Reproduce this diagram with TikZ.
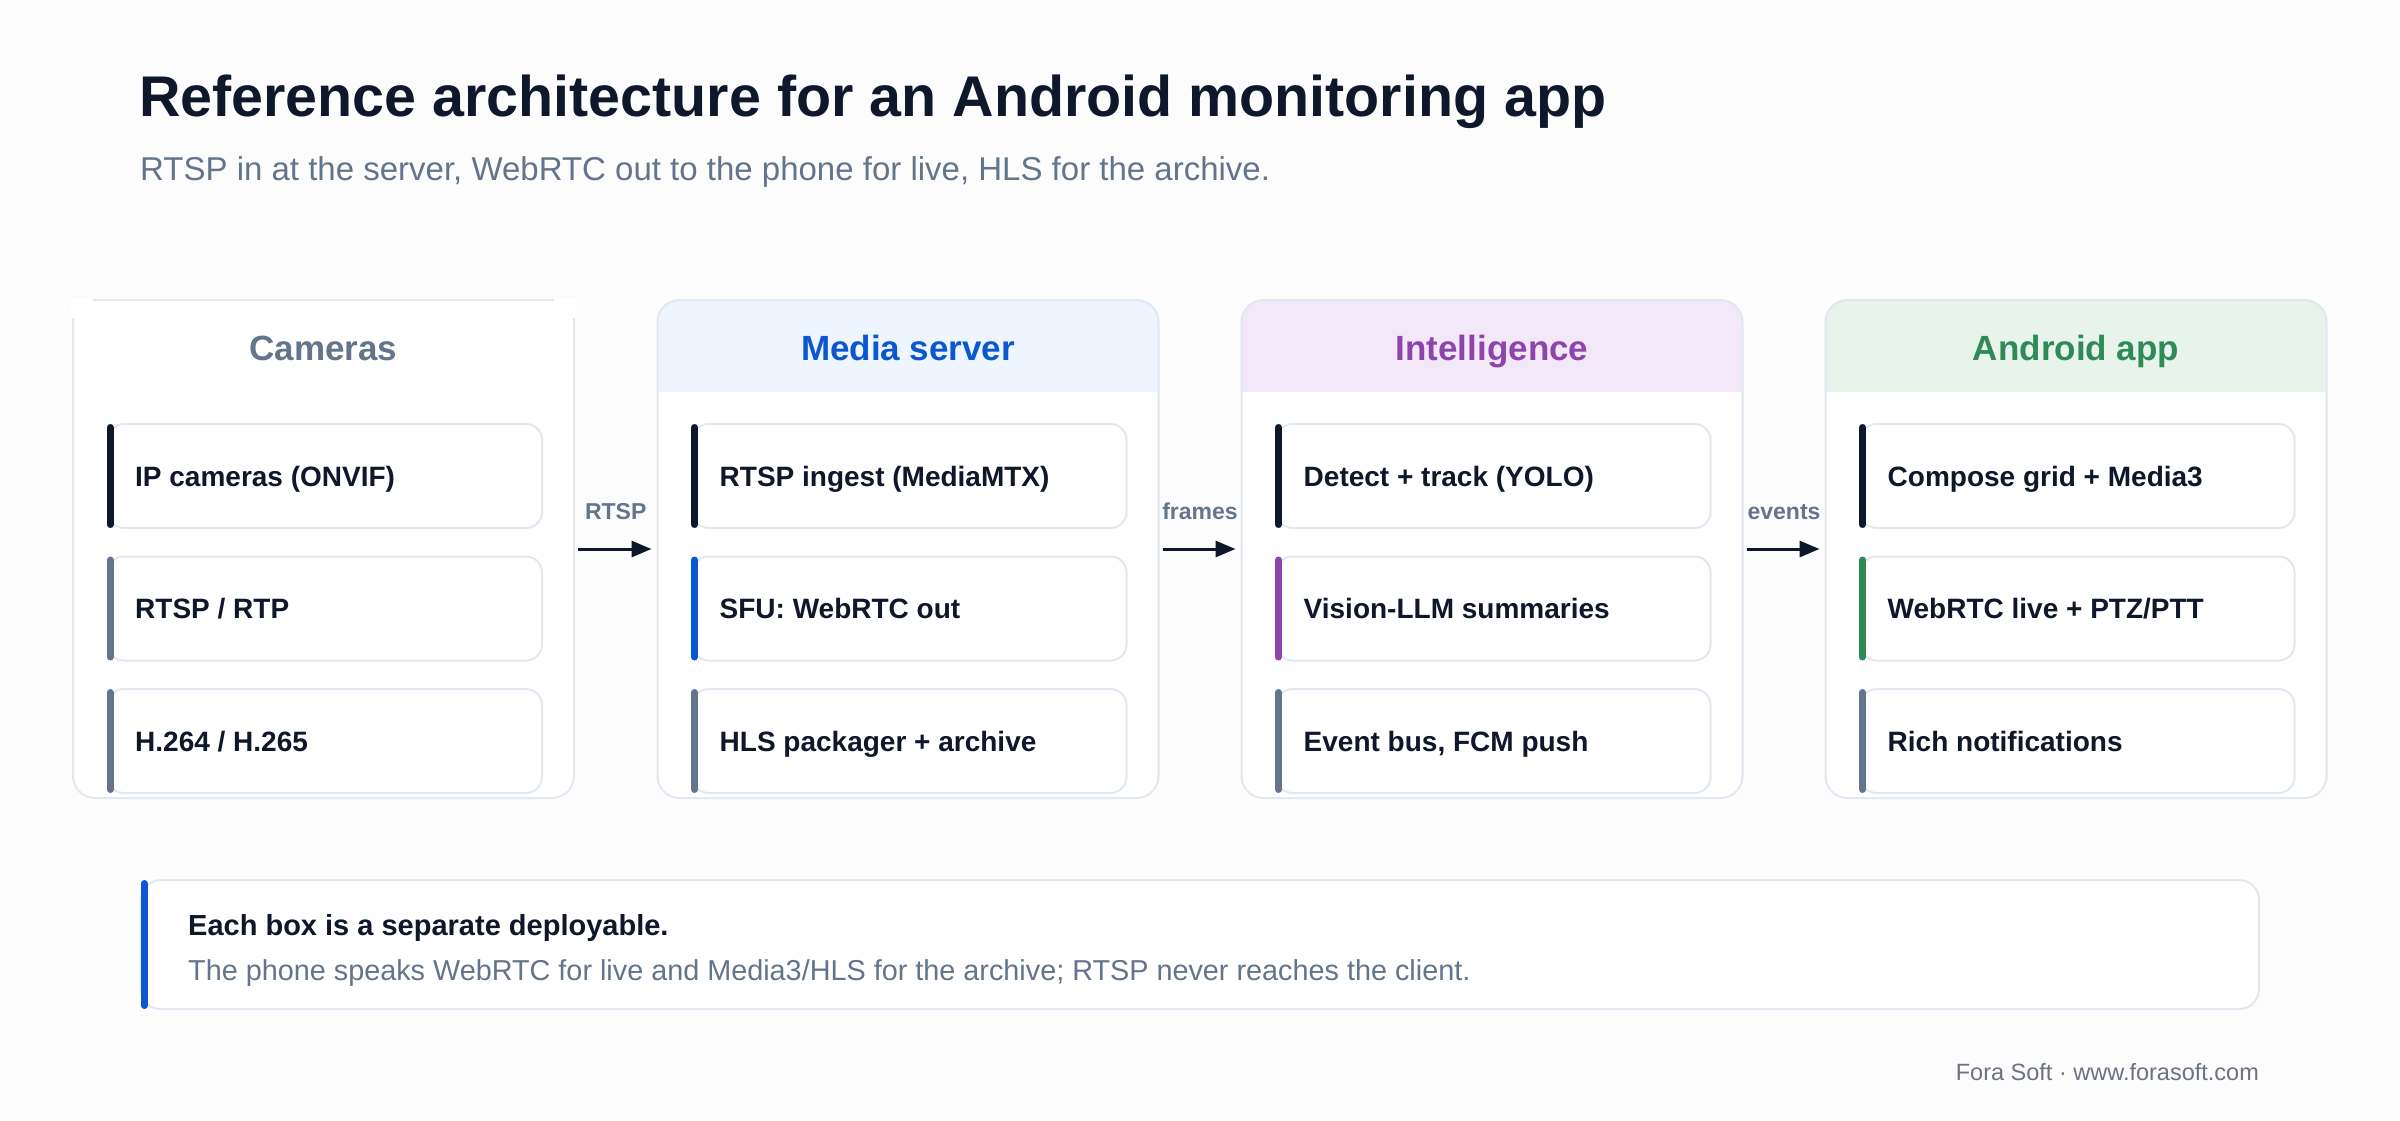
\documentclass[tikz,border=0pt]{standalone}
\usepackage{fontspec}
\setmainfont{Liberation Sans}
\usetikzlibrary{arrows.meta}
\definecolor{bg}{HTML}{FCFCFD}
\definecolor{ink}{HTML}{0F172A}
\definecolor{slate}{HTML}{64748B}
\definecolor{bline}{HTML}{E2E8F0}
\definecolor{cblue}{HTML}{0B57D0}
\definecolor{cpurple}{HTML}{8E44AD}
\definecolor{cgreen}{HTML}{2E8B57}
\definecolor{foot}{HTML}{6B7280}
\definecolor{hdblue}{HTML}{EEF5FE}
\definecolor{hdpurple}{HTML}{F3E8F8}
\definecolor{hdgreen}{HTML}{E8F3EC}
\definecolor{hdgray}{HTML}{FFFFFF}

\newcommand\archcol[9]{%
  \begin{scope}
    \clip[rounded corners=22pt] (#2,300) rectangle ++(501,498);
    \fill[white] (#2,300) rectangle ++(501,498);
    \fill[#5] (#2,300) rectangle ++(501,92);
  \end{scope}
  \node[colbox] (#1) at (#2,300) {};
  \node[hdtext, text=#4] (#1h) at (#2+250.5,360.5) {#3};
  \node[itembox] (#1a) at (#2+35,424) {};
  \node[itembox] (#1b) at (#2+35,556.5) {};
  \node[itembox] (#1c) at (#2+35,689) {};
  \draw[accentbar, ink] ([shift={(2,3.5)}]#1a.north west) -- ([shift={(2,-3.5)}]#1a.south west);
  \draw[accentbar, #8] ([shift={(2,3.5)}]#1b.north west) -- ([shift={(2,-3.5)}]#1b.south west);
  \draw[accentbar, slate] ([shift={(2,3.5)}]#1c.north west) -- ([shift={(2,-3.5)}]#1c.south west);
  \node[itemtext] (#1at) at ([shift={(27,62)}]#1a.north west) {#6};
  \node[itemtext] (#1bt) at ([shift={(27,62)}]#1b.north west) {#7};
  \node[itemtext] (#1ct) at ([shift={(27,62)}]#1c.north west) {#9};
}

\begin{document}
\begin{tikzpicture}[x=1pt,y=-1pt,
  colbox/.style={draw=bline, line width=2pt, rounded corners=22pt, minimum width=501pt, minimum height=498pt, anchor=north west, inner sep=0pt, outer sep=0pt},
  itembox/.style={draw=bline, line width=2pt, fill=white, rounded corners=16pt, minimum width=434pt, minimum height=104pt, anchor=north west, inner sep=0pt, outer sep=0pt},
  accentbar/.style={line width=7pt, line cap=round},
  hdtext/.style={font=\fontsize{35}{42}\selectfont\bfseries, anchor=base, inner sep=0pt},
  itemtext/.style={font=\fontsize{28}{34}\selectfont\bfseries, text=ink, anchor=base west, inner sep=0pt},
  lbl/.style={font=\fontsize{23}{28}\selectfont\bfseries, text=slate, inner sep=0pt},
  arr/.style={draw=ink, line width=3pt, -{Triangle[length=20pt,width=16pt]}, shorten <=4pt, shorten >=6pt}
]
\useasboundingbox (0,0) rectangle (2400,1120);
\fill[bg] (0,0) rectangle (2400,1120);

\node[font=\fontsize{57.4}{68}\selectfont\bfseries, text=ink, anchor=base west, inner sep=0pt] (title) at (139,116) {Reference architecture for an Android monitoring app};
\node[font=\fontsize{33}{40}\selectfont, text=slate, anchor=base west, inner sep=0pt] (subtitle) at (140,180) {RTSP in at the server, WebRTC out to the phone for live, HLS for the archive.};

\archcol{cam}{73}{Cameras}{slate}{hdgray}{IP cameras (ONVIF)}{RTSP / RTP}{slate}{H.264 / H.265}
\fill[white] (71,298) rectangle (93,318);
\fill[white] (554,298) rectangle (576,318);
\archcol{med}{657.5}{Media server}{cblue}{hdblue}{RTSP ingest (MediaMTX)}{SFU: WebRTC out}{cblue}{HLS packager + archive}
\archcol{intl}{1241.5}{Intelligence}{cpurple}{hdpurple}{Detect + track (YOLO)}{Vision-LLM summaries}{cpurple}{Event bus, FCM push}
\archcol{andr}{1825.5}{Android app}{cgreen}{hdgreen}{Compose grid + Media3}{WebRTC live + PTZ/PTT}{cgreen}{Rich notifications}

\draw[arr] (cam.east) -- (med.west) node[lbl, midway, anchor=base, yshift=30pt] (l1) {RTSP};
\draw[arr] (med.east) -- (intl.west) node[lbl, midway, anchor=base, yshift=30pt] (l2) {frames};
\draw[arr] (intl.east) -- (andr.west) node[lbl, midway, anchor=base, yshift=30pt] (l3) {events};

\node[draw=bline, line width=2pt, fill=white, rounded corners=20pt, minimum width=2118pt, minimum height=129pt, anchor=north west, inner sep=0pt, outer sep=0pt] (note) at (141,880) {};
\draw[accentbar, cblue] ([shift={(3,3.5)}]note.north west) -- ([shift={(3,-3.5)}]note.south west);
\node[font=\fontsize{29}{35}\selectfont\bfseries, text=ink, anchor=base west, inner sep=0pt] (nt1) at (188,935) {Each box is a separate deployable.};
\node[font=\fontsize{28.8}{35}\selectfont, text=slate, anchor=base west, inner sep=0pt] (nt2) at (188,980) {The phone speaks WebRTC for live and Media3/HLS for the archive; RTSP never reaches the client.};

\node[font=\fontsize{23.5}{28}\selectfont, text=foot, anchor=base east, inner sep=0pt] (footer) at (2259,1080) {Fora Soft · www.forasoft.com};
\end{tikzpicture}
\end{document}
